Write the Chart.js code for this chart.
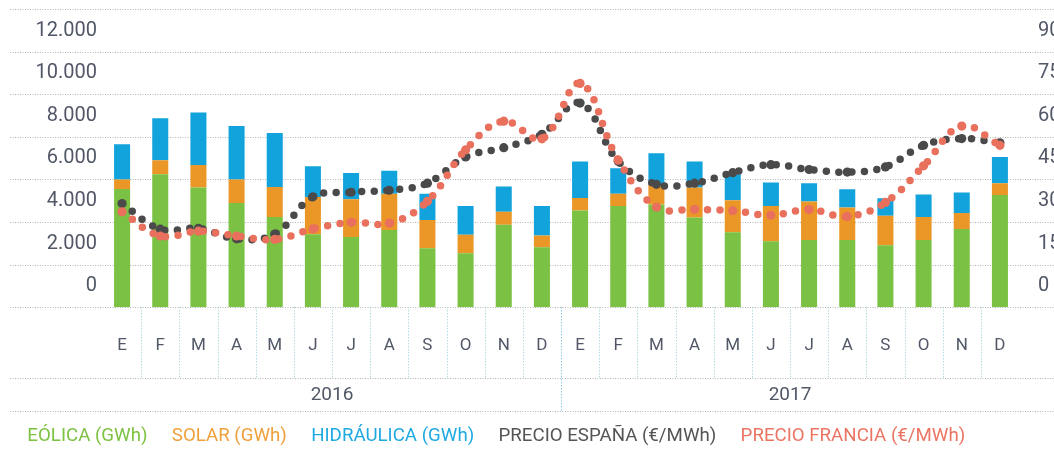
<!DOCTYPE html>
<html>
<head>
<meta charset="utf-8">
<script src="https://cdn.jsdelivr.net/npm/chart.js@4/dist/chart.umd.min.js"></script>
<style>
  html, body { margin: 0; padding: 0; background: #fff; overflow: hidden; }
  #wrap { width: 1054px; height: 450px; position: relative; }
</style>
</head>
<body>
<div id="wrap"><canvas id="energyChart"></canvas></div>
<script>
// meses (2016 y 2017)
const months = ['E', 'F', 'M', 'A', 'M', 'J', 'J', 'A', 'S', 'O', 'N', 'D',
                'E', 'F', 'M', 'A', 'M', 'J', 'J', 'A', 'S', 'O', 'N', 'D'];
const years = ['2016', '2017'];

// GWh
const eolica = [5550, 6250, 5620, 4900, 4240, 3430, 3300, 3630, 2770, 2535, 3880, 2815,
                4540, 4755, 4820, 4210, 3520, 3100, 3160, 3160, 2910, 3160, 3680, 5270];
const solar = [450, 650, 1060, 1100, 1410, 1750, 1770, 1700, 1330, 875, 610, 550,
               590, 580, 970, 1410, 1505, 1655, 1800, 1520, 1390, 1080, 750, 550];
const hidraulica = [1650, 1970, 2460, 2510, 2530, 1440, 1235, 1080, 1235, 1345, 1175, 1390,
                    1710, 1190, 1440, 1220, 1220, 1100, 860, 860, 820, 1050, 955, 1235];

// €/MWh
const precioEspana = [36.5, 27.5, 27.8, 24.1, 25.8, 38.9, 40.5, 41.2, 43.7, 52.9, 56.2, 60.9,
                      71.9, 51.4, 43.3, 43.7, 47.4, 50.2, 48.5, 47.6, 49.4, 57.0, 59.4, 57.9];
const precioFrancia = [33.6, 25.1, 26.8, 25.1, 23.9, 27.6, 29.9, 29.6, 37.3, 55.4, 65.5, 59.3,
                       78.8, 51.8, 35.3, 34.5, 34.0, 32.4, 34.4, 32.0, 36.9, 49.8, 63.8, 57.0];

const Colors = {
    GREEN: '#7bc143',
    ORANGE: '#eb9727',
    BLUE: '#12a3dc',
    DARK: '#4a4a4a',
    RED: '#e9705c',
    TEXT: '#515766',
    GRID: '#b4b4b4',
    TEAL: '#8ccbd3',
    YEARLINE: '#4fb3e0'
};

const legendColors = ['#7dc242', '#f0a03a', '#1fa9e1', '#555555', '#ec7463'];
const FONT = "Roboto, 'Liberation Sans', sans-serif";

// lineas punteadas, eje inferior y años
const decorations = {
    id: 'decorations',
    beforeDatasetsDraw(chart) {
        const ctx = chart.ctx;
        const x = chart.scales.x;
        const y = chart.scales.y;
        const area = chart.chartArea;
        const rowBottom = area.bottom + 71;
        const yearBottom = area.bottom + 104;
        ctx.save();
        ctx.lineWidth = 1;
        ctx.strokeStyle = Colors.GRID;
        ctx.setLineDash([1, 1.5]);
        const rows = y.ticks.map(t => y.getPixelForValue(t.value)).concat([rowBottom, yearBottom]);
        rows.forEach(py => {
            const yy = Math.round(py) + 0.5;
            ctx.beginPath();
            ctx.moveTo(10, yy);
            ctx.lineTo(chart.width, yy);
            ctx.stroke();
        });
        ctx.setLineDash([1, 2]);
        for (let i = 1; i < months.length; i++) {
            const px = Math.round((x.getPixelForValue(i - 1) + x.getPixelForValue(i)) / 2) + 0.5;
            const yearEdge = i % 12 === 0;
            ctx.strokeStyle = yearEdge ? Colors.YEARLINE : Colors.TEAL;
            ctx.beginPath();
            ctx.moveTo(px, area.bottom);
            ctx.lineTo(px, yearEdge ? yearBottom : rowBottom);
            ctx.stroke();
        }
        ctx.setLineDash([]);
        ctx.fillStyle = Colors.TEXT;
        ctx.font = '19px ' + FONT;
        ctx.textAlign = 'center';
        ctx.textBaseline = 'middle';
        years.forEach((yr, k) => {
            const cx = (x.getPixelForValue(k * 12) + x.getPixelForValue(k * 12 + 11)) / 2;
            ctx.fillText(yr, cx, (rowBottom + yearBottom) / 2);
        });
        ctx.restore();
    }
};

const priceLine = {
    type: 'line',
    borderWidth: 7.5,
    borderDash: [0, 12.7],
    borderCapStyle: 'round',
    tension: 0.4,
    pointRadius: 4.6,
    pointBorderWidth: 0,
    fill: false
};

const data = {
    labels: months,
    datasets: [
        { type: 'bar', label: 'EÓLICA (GWh)', data: eolica, backgroundColor: Colors.GREEN, yAxisID: 'y', order: 2 },
        { type: 'bar', label: 'SOLAR (GWh)', data: solar, backgroundColor: Colors.ORANGE, yAxisID: 'y', order: 2 },
        { type: 'bar', label: 'HIDRÁULICA (GWh)', data: hidraulica, backgroundColor: Colors.BLUE, yAxisID: 'y', order: 2 },
        Object.assign({}, priceLine, {
            label: 'PRECIO ESPAÑA (€/MWh)', data: precioEspana, yAxisID: 'y1', order: 1,
            borderColor: Colors.DARK, backgroundColor: Colors.DARK
        }),
        Object.assign({}, priceLine, {
            label: 'PRECIO FRANCIA (€/MWh)', data: precioFrancia, yAxisID: 'y1', order: 0,
            borderColor: Colors.RED, backgroundColor: Colors.RED
        })
    ]
};

const config = {
    data: data,
    plugins: [decorations],
    options: {
        responsive: true,
        maintainAspectRatio: false,
        animation: false,
        layout: { padding: { top: 9, left: 3, right: 0, bottom: -6 } },
        datasets: { bar: { barPercentage: 0.42, categoryPercentage: 1 } },
        plugins: {
            tooltip: { enabled: false },
            legend: {
                position: 'bottom',
                align: 'start',
                labels: {
                    boxWidth: 4,
                    boxHeight: 0,
                    padding: 11,
                    font: { family: FONT, size: 18.7 },
                    generateLabels: (chart) => chart.data.datasets.map((ds, i) => ({
                        text: ds.label,
                        fontColor: legendColors[i],
                        fillStyle: 'rgba(0,0,0,0)',
                        strokeStyle: 'rgba(0,0,0,0)',
                        lineWidth: 0,
                        hidden: false,
                        datasetIndex: i
                    }))
                }
            }
        },
        scales: {
            x: {
                stacked: true,
                grid: { display: false, drawTicks: false },
                border: { display: false },
                ticks: { color: Colors.TEXT, font: { family: FONT, size: 17 }, padding: 28, maxRotation: 0, autoSkip: false },
                afterFit: (s) => { s.height = 109; s.paddingLeft = 0; s.paddingRight = 0; }
            },
            y: {
                stacked: true,
                position: 'left',
                min: 0,
                max: 14000,
                grid: { display: false, drawTicks: false },
                border: { display: false },
                ticks: {
                    stepSize: 2000,
                    padding: 6,
                    labelOffset: -21,
                    color: Colors.TEXT,
                    font: { family: FONT, size: 20 },
                    callback: (v) => v >= 14000 ? '' : v.toLocaleString('de-DE')
                },
                afterFit: (s) => { s.width = 100; s.paddingTop = 0; s.paddingBottom = 0; }
            },
            y1: {
                position: 'right',
                min: 0,
                max: 105,
                grid: { display: false, drawTicks: false },
                border: { display: false },
                ticks: {
                    stepSize: 15,
                    padding: 19,
                    labelOffset: -21,
                    color: Colors.TEXT,
                    font: { family: FONT, size: 20 },
                    callback: (v) => v >= 105 ? '' : String(v)
                },
                afterFit: (s) => { s.width = 35; s.paddingTop = 0; s.paddingBottom = 0; }
            }
        }
    }
};

const energyChart = new Chart(document.getElementById('energyChart'), config);
</script>
</body>
</html>
